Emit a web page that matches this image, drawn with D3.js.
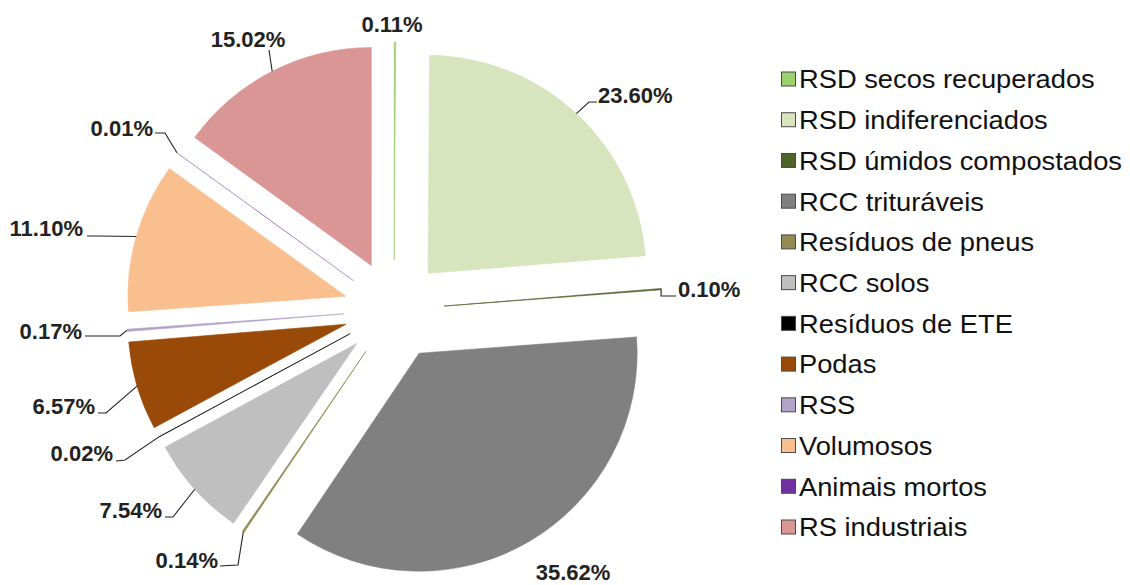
<!DOCTYPE html>
<meta charset="utf-8">
<style>
  body { margin: 0; background: #fff; }
  text { font-family: Arial, "Liberation Sans", Helvetica, sans-serif; }
</style>
<svg width="1130" height="585"></svg>

<script src="https://d3js.org/d3.v7.min.js"></script>
<script>
// data (clockwise from 12 o'clock)
var categories = ['RSD secos recuperados', 'RSD indiferenciados', 'RSD úmidos compostados',
  'RCC trituráveis', 'Resíduos de pneus', 'RCC solos', 'Resíduos de ETE', 'Podas',
  'RSS', 'Volumosos', 'Animais mortos', 'RS industriais'];
var percents = [0.11, 23.60, 0.10, 35.62, 0.14, 7.54, 0.02, 6.57, 0.17, 11.10, 0.01, 15.02];
var colors = ['#9ccf6e', '#d7e4bd', '#4f6228', '#808080', '#948a54', '#bfbfbf',
  '#000000', '#9a4a08', '#b3a2c7', '#fabf8f', '#7030a0', '#d99694'];

// label layout: text anchor point [x, y(middle), anchor]
var labelAt = [
  [392, 24, 'middle'], [598, 95, 'start'], [678, 289, 'start'], [573, 572, 'middle'],
  [218, 560, 'end'], [162, 510, 'end'], [113, 453, 'end'], [95, 406, 'end'],
  [82, 331, 'end'], [83, 228, 'end'], [153, 128, 'end'], [248, 39, 'middle']
];
// leader elbows (after the slice edge point)
var leaderAt = [
  null, [[589, 102], [597, 102]], [[661, 296], [676, 296]], null,
  [[238, 565], [220, 566]], [[173, 517], [165, 517]], [[125, 460], [116, 461]], [[106, 413], [98, 413]],
  [[120, 336], [85, 336]], [[97, 236], [87, 236]], [[165, 133], [155, 133]], [[269, 50]]
];

var svg = d3.select('svg');
var cx = 394, cy = 310, radius = 218, explode = 50;

var pie = d3.pie().sort(null).value(function (d) { return d; });
var arcs = pie(percents);
var arc = d3.arc().innerRadius(0).outerRadius(radius);

function mid(d) { return (d.startAngle + d.endAngle) / 2; }

var pieGroup = svg.append('g').attr('transform', 'translate(' + cx + ',' + cy + ')');

pieGroup.selectAll('path')
  .data(arcs)
  .enter().append('path')
    .attr('d', arc)
    .attr('fill', function (d, i) { return colors[i]; })
    .attr('stroke', function (d, i) { return colors[i]; })
    .attr('stroke-width', function (d) { return d.data < 0.015 ? 0.3 : 0.6; })
    .attr('transform', function (d) {
      var a = mid(d);
      return 'translate(' + explode * Math.sin(a) + ',' + (-explode * Math.cos(a)) + ')';
    });

// leader lines
var line = d3.line();
svg.append('g').selectAll('path')
  .data(arcs.filter(function (d, i) { return leaderAt[i]; }))
  .enter().append('path')
    .attr('fill', 'none')
    .attr('stroke', '#222')
    .attr('stroke-width', 1.1)
    .attr('d', function (d) {
      var a = mid(d), rr = radius + explode;
      var pts = [[cx + rr * Math.sin(a), cy - rr * Math.cos(a)]].concat(leaderAt[d.index]);
      return line(pts);
    });

// percentage labels (slightly stretched like the source image)
svg.append('g').selectAll('text')
  .data(arcs)
  .enter().append('text')
    .attr('transform', function (d, i) {
      return 'translate(' + labelAt[i][0] + ',' + labelAt[i][1] + ') scale(1.1,1.1)';
    })
    .attr('dy', '0.36em')
    .attr('text-anchor', function (d, i) { return labelAt[i][2]; })
    .attr('font-size', 20)
    .attr('font-weight', 'bold')
    .attr('fill', '#222')
    .text(function (d) { return d.data.toFixed(2) + '%'; });

// legend
var legendY = d3.scalePoint().domain(categories).range([79, 527]);
var legend = svg.append('g').selectAll('g')
  .data(categories)
  .enter().append('g')
    .attr('transform', function (d) { return 'translate(781,' + legendY(d) + ')'; });

legend.append('rect')
  .attr('x', 0.5).attr('y', -7)
  .attr('width', 14).attr('height', 14)
  .attr('fill', function (d, i) { return colors[i]; })
  .attr('stroke', '#4a4a4a')
  .attr('stroke-width', 1);

legend.append('text')
  .attr('transform', 'translate(18,0) scale(1.05,1)')
  .attr('dy', '0.36em')
  .attr('font-size', 26)
  .attr('fill', '#111')
  .text(function (d) { return d; });
</script>
